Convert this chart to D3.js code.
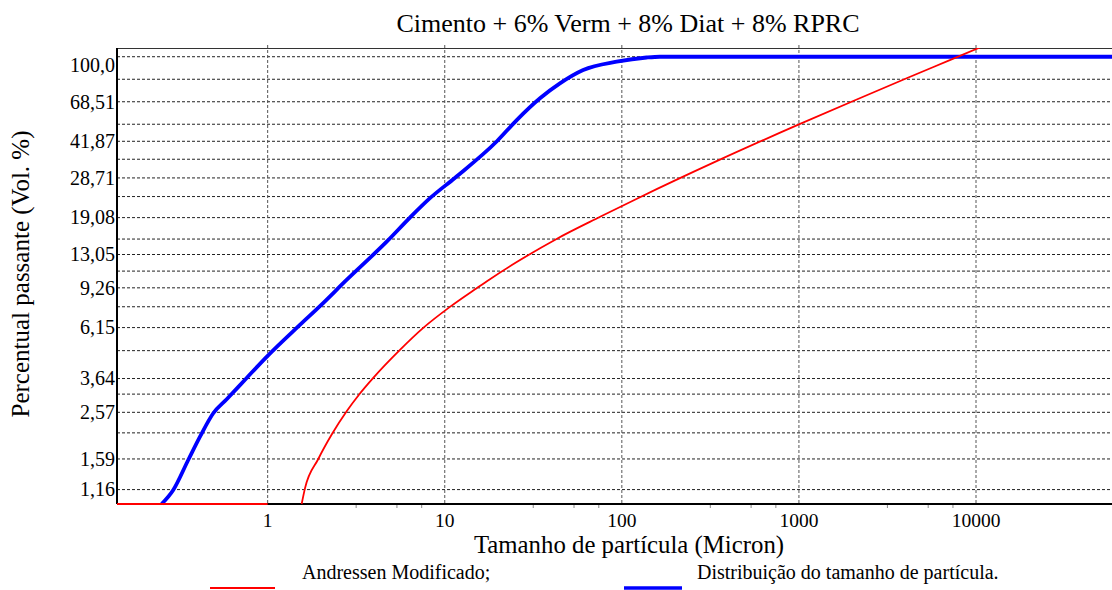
<!DOCTYPE html>
<html>
<head>
<meta charset="utf-8">
<script src="https://cdn.jsdelivr.net/npm/d3@7"></script>
<style>
  html, body { margin: 0; padding: 0; background: #fff; }
  svg { display: block; font-family: "Liberation Serif", "Times New Roman", serif; }
</style>
</head>
<body>
<svg id="chart" width="1112" height="590"></svg>
<script>
// Particle size distribution (log x) against the modified Andreasen packing curve.
const chartTitle = "Cimento + 6% Verm + 8% Diat + 8% RPRC";
const xTitle = "Tamanho de partícula (Micron)";
const yTitle = "Percentual passante (Vol. %)";

const xTickValues = [1, 10, 100, 1000, 10000];
const xTickLabels = ["1", "10", "100", "1000", "10000"];
const xMinorTicks = [3.16, 5.37, 7.41, 31.6, 53.7, 74.1, 316, 537, 741, 3160, 5370, 7410];

const yGridValues = [100, 79.3, 62.9, 49.9, 41.87, 34.8, 28.71, 23.7, 19.08, 15.3, 13.05, 11.0,
                     9.26, 7.62, 6.15, 4.85, 3.64, 3.10, 2.57, 2.08, 1.59, 1.16];
const yTickValues = [100, 62.9, 41.87, 28.71, 19.08, 13.05, 9.26, 6.15, 3.64, 2.57, 1.59, 1.16];
const yTickLabels = ["100,0", "68,51", "41,87", "28,71", "19,08", "13,05", "9,26", "6,15", "3,64", "2,57", "1,59", "1,16"];

// Measured distribution
const blueSize    = [0.252, 0.293, 0.356, 0.415, 0.493, 0.587, 0.761, 0.987, 1.52, 1.974, 2.79, 4.70,
                     6.36, 8.25, 11.4, 19.7, 25.5, 34.5, 44.7, 60.5, 93.5, 138, 164, 58600];
const bluePassing = [1.0, 1.155, 1.573, 2.00, 2.545, 2.94, 3.66, 4.55, 6.32, 7.67, 10.04, 14.89,
                     19.08, 23.3, 28.71, 41.87, 52.1, 65.2, 76.0, 87.2, 95.0, 99.2, 100, 100];

// Modified Andreasen model (null breaks the line)
const redSize    = [0.141, 1.0, 1.2, 1.556, 1.624, 1.931, 2.322, 2.793, 3.269, 3.947, 5.585, 7.56, 10.70,
                    15.14, 18.0, 25.5, 42.8, 75.4, 126.6, 343, 1000, 2026, 4055, 7280, 10520];
const redPassing = [1, 1, null, 1.0, 1.175, 1.589, 2.071, 2.597, 3.072, 3.664, 4.887, 6.13, 7.61,
                    9.22, 10.12, 12.07, 15.32, 19.24, 23.54, 34.11, 49.8, 63.4, 80.1, 97.3, 110];

const legendNames = ["Andressen Modificado;", "Distribuição do tamanho de partícula."];

const svg = d3.select("#chart");
const plot = { left: 117, right: 1112, top: 48, bottom: 504 };

const x = d3.scaleLog().domain([0.141, 58600]).range([plot.left, plot.right]);
const y = d3.scaleLog().domain([1, 109.4]).range([plot.bottom, plot.top]);

// clip for the curves
svg.append("defs").append("clipPath").attr("id", "plotClip")
  .append("rect")
  .attr("x", plot.left).attr("y", plot.top)
  .attr("width", plot.right - plot.left).attr("height", plot.bottom - plot.top + 2);

// horizontal gridlines
svg.append("g").selectAll("line").data(yGridValues).join("line")
  .attr("x1", plot.left).attr("x2", plot.right)
  .attr("y1", d => y(d)).attr("y2", d => y(d))
  .attr("stroke", "#222").attr("stroke-width", 1).attr("stroke-dasharray", "3,2");

// vertical gridlines at decades
svg.append("g").selectAll("line").data(xTickValues).join("line")
  .attr("x1", d => x(d)).attr("x2", d => x(d))
  .attr("y1", plot.top - 3).attr("y2", plot.bottom)
  .attr("stroke", "#555").attr("stroke-width", 1).attr("stroke-dasharray", "3,2");

// top border
svg.append("line")
  .attr("x1", plot.left).attr("x2", plot.right)
  .attr("y1", plot.top + 0.5).attr("y2", plot.top + 0.5)
  .attr("stroke", "#333").attr("stroke-width", 1);

// minor ticks below the x axis
svg.append("g").selectAll("line").data(xMinorTicks).join("line")
  .attr("x1", d => x(d)).attr("x2", d => x(d))
  .attr("y1", plot.bottom).attr("y2", plot.bottom + 4)
  .attr("stroke", "#888").attr("stroke-width", 1);

// axes lines
svg.append("line")
  .attr("x1", plot.left).attr("x2", plot.right)
  .attr("y1", plot.bottom).attr("y2", plot.bottom)
  .attr("stroke", "#000").attr("stroke-width", 2);
svg.append("line")
  .attr("x1", plot.left).attr("x2", plot.left)
  .attr("y1", plot.top).attr("y2", plot.bottom)
  .attr("stroke", "#000").attr("stroke-width", 2);

// x tick labels
svg.append("g").selectAll("text").data(xTickValues).join("text")
  .attr("x", d => x(d)).attr("y", plot.bottom + 23)
  .attr("text-anchor", "middle").attr("font-size", 19.5).attr("fill", "#000")
  .text((d, i) => xTickLabels[i]);

// y tick labels (top one kept inside the frame)
svg.append("g").selectAll("text").data(yTickValues).join("text")
  .attr("x", plot.left - 2)
  .attr("y", d => Math.max(y(d), plot.top + 17))
  .attr("dy", "0.34em")
  .attr("text-anchor", "end").attr("font-size", 20).attr("fill", "#000")
  .text((d, i) => yTickLabels[i]);

// curves
const line = d3.line()
  .defined(d => d[1] != null)
  .x(d => x(d[0])).y(d => y(d[1]))
  .curve(d3.curveMonotoneX);

const blueData = blueSize.map((s, i) => [s, bluePassing[i]]);
const redData = redSize.map((s, i) => [s, redPassing[i]]);

const curves = svg.append("g").attr("clip-path", "url(#plotClip)");
curves.append("path").datum(blueData).attr("d", line)
  .attr("fill", "none").attr("stroke", "#0000ff").attr("stroke-width", 3.8)
  .attr("stroke-linejoin", "round");
curves.append("path").datum(redData).attr("d", line)
  .attr("fill", "none").attr("stroke", "#ff0000").attr("stroke-width", 1.8)
  .attr("stroke-linejoin", "round");

// titles
svg.append("text")
  .attr("x", 628).attr("y", 32)
  .attr("text-anchor", "middle").attr("font-size", 26).attr("fill", "#000")
  .text(chartTitle);
svg.append("text")
  .attr("x", 629).attr("y", 553)
  .attr("text-anchor", "middle").attr("font-size", 24.8).attr("fill", "#000")
  .text(xTitle);
svg.append("text")
  .attr("transform", "translate(29,274) rotate(-90)")
  .attr("text-anchor", "middle").attr("font-size", 25).attr("fill", "#000")
  .text(yTitle);

// legend
const legend = svg.append("g");
const legendItems = [
  { name: legendNames[0], color: "#ff0000", width: 1.8, x1: 210, x2: 275, tx: 302 },
  { name: legendNames[1], color: "#0000ff", width: 3.5, x1: 624, x2: 682, tx: 697 }
];
legendItems.forEach(it => {
  legend.append("line")
    .attr("x1", it.x1).attr("x2", it.x2).attr("y1", 588).attr("y2", 588)
    .attr("stroke", it.color).attr("stroke-width", it.width);
  legend.append("text")
    .attr("x", it.tx).attr("y", 579)
    .attr("font-size", 20).attr("fill", "#000")
    .text(it.name);
});
</script>
</body>
</html>
